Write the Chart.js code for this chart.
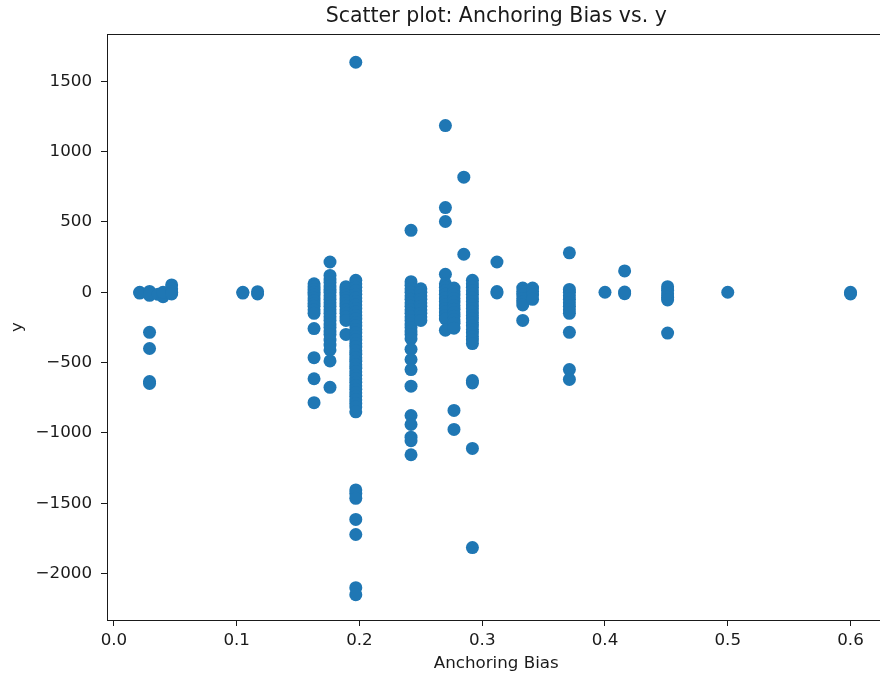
<!DOCTYPE html>
<html>
<head>
<meta charset="utf-8">
<script src="https://cdn.jsdelivr.net/npm/chart.js@4.4.1/dist/chart.umd.min.js"></script>
<style>
  html, body { margin: 0; padding: 0; background: #fff; overflow: hidden; }
  canvas { display: block; }
</style>
</head>
<body>
<canvas id="scatter" width="892" height="680"></canvas>
<script>
// anchoring bias levels and the y values seen at each one
const anchoringLevels = [0.021, 0.029, 0.036, 0.040, 0.047, 0.105, 0.117, 0.163, 0.176, 0.189, 0.197,
	0.242, 0.250, 0.270, 0.277, 0.285, 0.292, 0.312, 0.333, 0.341, 0.371, 0.400, 0.416, 0.451, 0.500, 0.600];

const y021 = [0, -6];
const y029 = [6, -8, -22, -285, -400, -635, -648];
const y036 = [-15];
const y040 = [-32, 0];
const y047 = [52, 25, 0, -12];
const y105 = [0, -6];
const y117 = [-12, 4];
const y163 = [60, 40, 20, 0, -20, -40, -60, -80, -100, -125, -150, -258, -465, -615, -785];
const y176 = [215, 120, 95, 70, 45, 20, 0, -25, -50, -75, -100, -125, -150, -175, -200, -225, -250, -275, -300, -340, -375, -410, -488, -676];
const y189 = [40, 20, 0, -20, -40, -60, -80, -100, -125, -150, -175, -200, -300];
const y197 = [1635, 85, 60, 35, 10, -15, -40, -65, -90, -115, -140, -165, -190, -215, -240, -265, -290, -315, -340, -365,
	-390, -415, -440, -465, -490, -515, -540, -565, -590, -615, -640, -665, -690, -715, -740, -765, -790, -815, -850,
	-1405, -1430, -1465, -1615, -1722, -2100, -2150];
const y242 = [440, 75, 50, 25, 0, -25, -50, -75, -100, -125, -150, -175, -200, -225, -250, -275, -300, -330,
	-405, -478, -550, -668, -876, -940, -1030, -1055, -1155];
const y250 = [25, 0, -25, -50, -75, -100, -125, -150, -175, -200];
const y270 = [1185, 602, 503, 128, 60, 35, 10, -15, -40, -65, -90, -115, -140, -165, -190, -270];
const y277 = [30, 5, -20, -45, -70, -95, -120, -145, -170, -195, -220, -255, -840, -975];
const y285 = [818, 270];
const y292 = [85, 60, 35, 10, -15, -40, -65, -90, -115, -140, -165, -190, -215, -240, -265, -290, -315, -340, -365,
	-628, -645, -1110, -1815];
const y312 = [215, 5, -5];
const y333 = [30, 5, -20, -45, -70, -90, -200];
const y341 = [30, 5, -20, -50];
const y371 = [280, 20, 0, -25, -50, -75, -100, -125, -150, -285, -550, -620];
const y400 = [0];
const y416 = [152, 2, -10];
const y451 = [40, 15, -10, -35, -55, -290];
const y500 = [0];
const y600 = [0, -12];

const yByLevel = [y021, y029, y036, y040, y047, y105, y117, y163, y176, y189, y197,
	y242, y250, y270, y277, y285, y292, y312, y333, y341, y371, y400, y416, y451, y500, y600];

const xTicks = [0.0, 0.1, 0.2, 0.3, 0.4, 0.5, 0.6];
const yTicks = [-2000, -1500, -1000, -500, 0, 500, 1000, 1500];

const points = [];
anchoringLevels.forEach(function(x, i) {
	yByLevel[i].forEach(function(y) { points.push({x: x, y: y}); });
});

const font = "'DejaVu Sans', sans-serif";
const ink = '#1a1a1a';

// matplotlib draws a full box round the axes
const boxPlugin = {
	id: 'box',
	afterDraw: function(chart) {
		const a = chart.chartArea, ctx = chart.ctx;
		ctx.save();
		ctx.strokeStyle = ink;
		ctx.lineWidth = 1;
		ctx.strokeRect(a.left + 0.5, a.top + 0.5, a.right - a.left, a.bottom - a.top);
		ctx.restore();
	}
};

function fixedTicks(list) {
	return function(scale) { scale.ticks = list.map(function(v) { return {value: v}; }); };
}

new Chart(document.getElementById('scatter'), {
	type: 'scatter',
	data: {
		datasets: [{
			data: points,
			backgroundColor: '#1f77b4',
			borderWidth: 0,
			pointRadius: 6.5,
			pointHoverRadius: 6.5
		}]
	},
	plugins: [boxPlugin],
	options: {
		responsive: false,
		animation: false,
		devicePixelRatio: 1,
		layout: { padding: { left: 0, right: 1, top: 0, bottom: 0 } },
		plugins: {
			legend: { display: false },
			tooltip: { enabled: false },
			title: {
				display: true,
				fullSize: false,
				text: 'Scatter plot: Anchoring Bias vs. y',
				color: ink,
				font: { family: font, size: 20.5, weight: 'normal' },
				padding: { top: 4.5, bottom: 4.9 }
			}
		},
		scales: {
			x: {
				type: 'linear',
				min: -0.00566,
				max: 0.6285,
				afterBuildTicks: fixedTicks(xTicks),
				afterFit: function(s) { s.height = 60; },
				border: { display: true, color: ink, width: 1 },
				grid: { display: true, drawOnChartArea: false, drawTicks: true, tickLength: 6, color: ink },
				ticks: {
					autoSkip: false,
					maxRotation: 0,
					padding: 5,
					color: ink,
					font: { family: font, size: 16.7 },
					callback: function(v) { return v.toFixed(1); }
				},
				title: {
					display: true,
					text: 'Anchoring Bias',
					color: ink,
					font: { family: font, size: 16.7 },
					padding: { top: 0, bottom: 6 }
				}
			},
			y: {
				type: 'linear',
				min: -2330,
				max: 1836,
				afterBuildTicks: fixedTicks(yTicks),
				afterFit: function(s) { s.width = 107; },
				border: { display: true, color: ink, width: 1 },
				grid: { display: true, drawOnChartArea: false, drawTicks: true, tickLength: 6, color: ink },
				ticks: {
					autoSkip: false,
					padding: 9,
					color: ink,
					font: { family: font, size: 16.7 },
					callback: function(v) { return String(v).replace('-', '\u2212'); }
				},
				title: {
					display: true,
					text: 'y',
					color: ink,
					font: { family: font, size: 16.7 },
					padding: { top: 8, bottom: 0 }
				}
			}
		}
	}
});
</script>
</body>
</html>
